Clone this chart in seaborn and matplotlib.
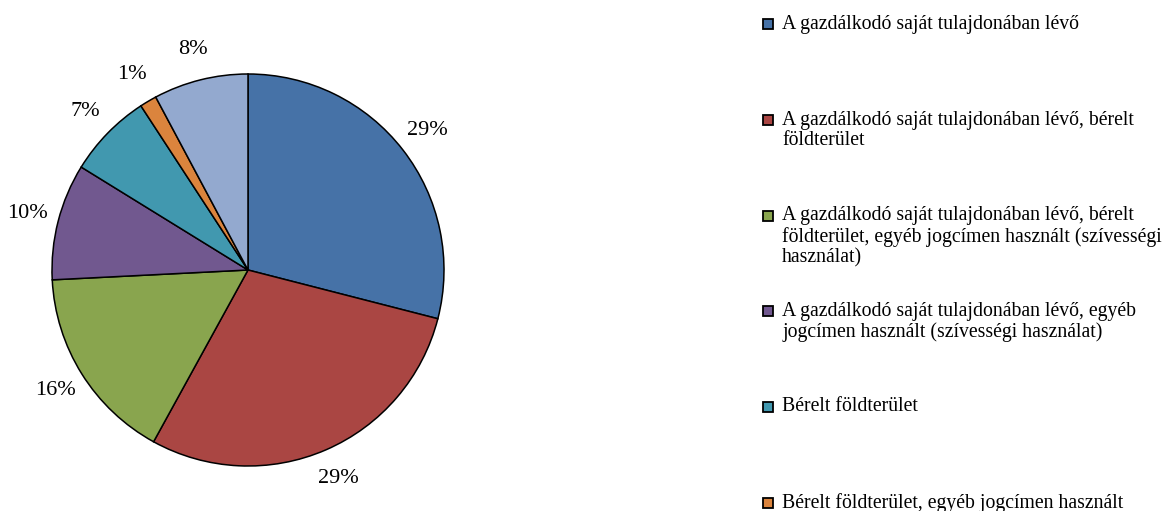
import matplotlib
matplotlib.use("Agg")
import matplotlib.pyplot as plt
from matplotlib.patches import Rectangle
import seaborn as sns

categories = [
    "A gazdálkodó saját tulajdonában lévő",
    "A gazdálkodó saját tulajdonában lévő, bérelt\nföldterület",
    "A gazdálkodó saját tulajdonában lévő, bérelt\nföldterület, egyéb jogcímen használt (szívességi\nhasználat)",
    "A gazdálkodó saját tulajdonában lévő, egyéb\njogcímen használt (szívességi használat)",
    "Bérelt földterület",
    "Bérelt földterület, egyéb jogcímen használt\n(szívességi használat)",
    "Egyéb jogcímen használt (szívességi használat)",
]
values = [29.0, 29.0, 16.2, 9.6, 7.0, 1.4, 7.8]
colors = ["#4672A7", "#AA4643", "#89A54E", "#71588F", "#4198AF", "#DB843D", "#93A9CF"]

sns.set_style("white")
plt.rcParams["font.family"] = ["Liberation Serif", "DejaVu Serif"]

W, H = 1162, 511
fig = plt.figure(figsize=(W / 100, H / 100), dpi=100)
fig.patch.set_facecolor("white")

# pie axes: center (248,270) px, radius 196 px
cx, cy, r = 248, 270, 196
ax = fig.add_axes([(cx - r) / W, (H - cy - r) / H, 2 * r / W, 2 * r / H])
palette = sns.color_palette(colors)
wedges, texts, autotexts = ax.pie(
    values,
    colors=palette,
    startangle=90,
    counterclock=False,
    autopct="%.0f%%",
    pctdistance=1.16,
    wedgeprops=dict(edgecolor="black", linewidth=1.1),
    textprops=dict(fontsize=16, color="black"),
)
ax.set_xlim(-1, 1)
ax.set_ylim(-1, 1)
ax.set_aspect("equal")
ax.axis("off")

# legend, Excel-style with uniform pitch (only entries that fall on the canvas)
y0, pitch = 24.5, 95.6
for i, (lab, col) in enumerate(zip(categories, palette)):
    y = y0 + i * pitch
    if y > H:
        break
    fig.patches.append(Rectangle((763 / W, 1 - (y + 5) / H), 10 / W, 10 / H,
                                 transform=fig.transFigure, facecolor=col,
                                 edgecolor="black", linewidth=1.3))
    fig.text(782 / W, 1 - (y - 9.5) / H, lab, fontsize=14.2, va="top",
             ha="left", linespacing=1.1, color="black")

fig.savefig("out.png", dpi=100)
